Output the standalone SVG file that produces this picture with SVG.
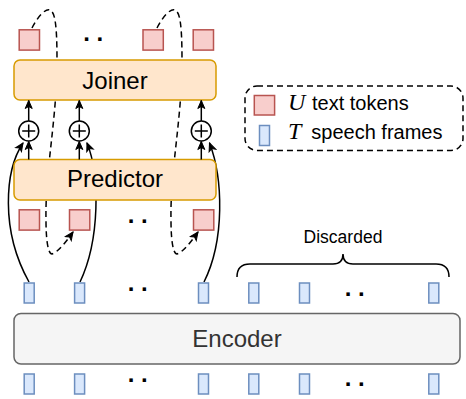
<svg xmlns="http://www.w3.org/2000/svg" width="466" height="399" viewBox="0 0 466 399">
<defs>
<marker id="arr" markerUnits="userSpaceOnUse" markerWidth="10" markerHeight="10" viewBox="0 0 10 10" refX="9" refY="5" orient="auto">
<path d="M1,1.5 L9,5 L1,8.5 L3,5 Z" fill="#000" stroke="#000" stroke-width="1"/>
</marker>
</defs>
<style>
.tok{fill:#f8cecc;stroke:#b85450;stroke-width:1.5}
.frm{fill:#dae8fc;stroke:#6c8ebf;stroke-width:1.5}
.blk{fill:#ffe6cc;stroke:#d79b00;stroke-width:1.5}
.enc{fill:#f5f5f5;stroke:#666666;stroke-width:1.5}
.lbl{font-family:"Liberation Sans",Arial,sans-serif;font-size:24px;fill:#000;text-anchor:middle}
.dots{font-family:"Liberation Sans",Arial,sans-serif;font-size:24px;font-weight:bold;fill:#000;text-anchor:middle}
.ln{fill:none;stroke:#000;stroke-width:1.5}
.dash{fill:none;stroke:#000;stroke-width:1.5;stroke-dasharray:6 4}
.leg{font-family:"Liberation Sans",Arial,sans-serif;font-size:20px;fill:#000}
.math{font-family:"Liberation Serif","Times New Roman",serif;font-style:italic;font-size:24px;fill:#000}
</style>
<rect width="466" height="399" fill="#fff"/>

<g id="connectors">
<path class="dash" d="M32,28 C38,16 46,8 50,10 C55,12 57,25 57,60 C57,120 45,170 46,220 C46,240 48,254 52,254 C58,252 66,242 73,232" marker-end="url(#arr)"/>
<path class="dash" d="M157,28 C163,16 171,8 175,10 C180,12 182,25 182,60 C182,120 170,170 171,220 C171,240 173,254 177,254 C183,252 191,242 198,232" marker-end="url(#arr)"/>
<path class="ln" d="M29,282 C0,230 5,170 23,143" marker-end="url(#arr)"/>
<path class="ln" d="M80,282 C100,240 100,175 87,143" marker-end="url(#arr)"/>
<path class="ln" d="M204,282 C225,240 223,178 209.5,143" marker-end="url(#arr)"/>
</g>

<g id="joiner">
<rect class="blk" x="14" y="60" width="202" height="40" rx="6"/>
<text class="lbl" x="115" y="88.5">Joiner</text>
</g>
<g id="predictor">
<rect class="blk" x="14" y="159.5" width="202" height="40.5" rx="6"/>
<text class="lbl" x="115" y="186.7">Predictor</text>
</g>
<g id="encoder">
<rect class="enc" x="14" y="313.5" width="446" height="50.5" rx="7"/>
<text class="lbl" x="237" y="346.7" style="fill:#333333">Encoder</text>
</g>

<g id="adders">
<g id="add1">
<circle cx="28.7" cy="131" r="10" fill="#fff" stroke="#000" stroke-width="1.5"/>
<path class="ln" d="M22.2,131 H35.2 M28.7,124.5 V137.5"/>
</g>
<g id="add2">
<circle cx="79.3" cy="131" r="10" fill="#fff" stroke="#000" stroke-width="1.5"/>
<path class="ln" d="M72.8,131 H85.8 M79.3,124.5 V137.5"/>
</g>
<g id="add3">
<circle cx="201.3" cy="131" r="10" fill="#fff" stroke="#000" stroke-width="1.5"/>
<path class="ln" d="M194.8,131 H207.8 M201.3,124.5 V137.5"/>
</g>
</g>

<g id="arrows">
<path class="ln" d="M28.7,159.5 V141.5" marker-end="url(#arr)"/>
<path class="ln" d="M28.7,121 V100.5" marker-end="url(#arr)"/>
<path class="ln" d="M79.3,159.5 V141.5" marker-end="url(#arr)"/>
<path class="ln" d="M79.3,121 V100.5" marker-end="url(#arr)"/>
<path class="ln" d="M201.3,159.5 V141.5" marker-end="url(#arr)"/>
<path class="ln" d="M201.3,121 V100.5" marker-end="url(#arr)"/>
</g>

<g id="output-tokens">
<rect class="tok" x="19.2" y="29.8" width="20.3" height="20.3"/>
<rect class="tok" x="143" y="29.8" width="20.3" height="20.3"/>
<rect class="tok" x="193.2" y="29.8" width="20.3" height="20.3"/>
<text class="dots" x="93.3" y="40.5">. .</text>
</g>

<g id="input-tokens">
<rect class="tok" x="19.2" y="209.8" width="20.3" height="20.3"/>
<rect class="tok" x="69.5" y="209.8" width="20.3" height="20.3"/>
<rect class="tok" x="193.5" y="209.8" width="20.3" height="20.3"/>
<text class="dots" x="137.7" y="222.5">. .</text>
</g>

<g id="encoder-outputs">
<rect class="frm" x="24.2" y="283" width="10" height="20"/>
<rect class="frm" x="74.6" y="283" width="10" height="20"/>
<rect class="frm" x="198.5" y="283" width="10" height="20"/>
<rect class="frm" x="248.8" y="283" width="10" height="20"/>
<rect class="frm" x="299.5" y="283" width="10" height="20"/>
<rect class="frm" x="428.8" y="283" width="10" height="20"/>
<text class="dots" x="137.7" y="290.8">. .</text>
<text class="dots" x="354.7" y="295.5">. .</text>
</g>

<g id="encoder-inputs">
<rect class="frm" x="24.2" y="374" width="10" height="20"/>
<rect class="frm" x="74.6" y="374" width="10" height="20"/>
<rect class="frm" x="198.5" y="374" width="10" height="20"/>
<rect class="frm" x="248.8" y="374" width="10" height="20"/>
<rect class="frm" x="299.5" y="374" width="10" height="20"/>
<rect class="frm" x="428.8" y="374" width="10" height="20"/>
<text class="dots" x="137.7" y="382.2">. .</text>
<text class="dots" x="354.7" y="385.8">. .</text>
</g>

<g id="discarded">
<path class="ln" d="M237,277 Q237,264 250,264 L333,264 Q343,264 343,254 Q343,264 353,264 L436,264 Q449,264 449,277"/>
<text x="343" y="243" style="font-family:'Liberation Sans',Arial,sans-serif;font-size:17.5px;text-anchor:middle;fill:#000">Discarded</text>
</g>

<g id="legend">
<rect x="245" y="86" width="218" height="64.5" rx="12" fill="none" stroke="#000" stroke-width="1.5" stroke-dasharray="6 4"/>
<rect class="tok" x="254.3" y="95.5" width="20.3" height="19.5"/>
<rect class="frm" x="259.5" y="125.5" width="10" height="20"/>
<text class="math" x="288" y="110">U</text>
<text class="leg" x="312" y="110">text tokens</text>
<text class="math" x="288" y="139.3">T</text>
<text class="leg" x="311.3" y="139.3">speech frames</text>
</g>
</svg>
